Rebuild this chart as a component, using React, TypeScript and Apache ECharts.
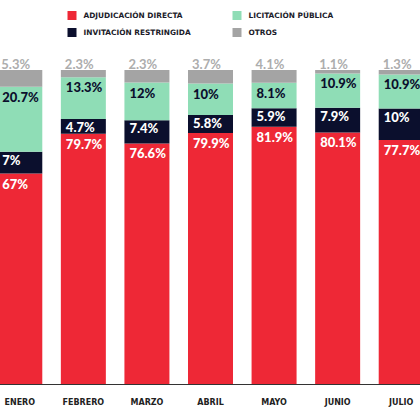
import React, { useEffect, useRef } from "react";
import * as echarts from "echarts";

const months = ["ENERO", "FEBRERO", "MARZO", "ABRIL", "MAYO", "JUNIO", "JULIO"];
const adjudicacion = [67, 79.7, 76.6, 79.9, 81.9, 80.1, 77.7];
const invitacion = [7, 4.7, 7.4, 5.8, 5.9, 7.9, 10];
const licitacion = [20.7, 13.3, 12, 10, 8.1, 10.9, 10.9];
const otros = [5.3, 2.3, 2.3, 3.7, 4.1, 1.1, 1.3];

const names = ["ADJUDICACIÓN DIRECTA", "INVITACIÓN RESTRINGIDA", "LICITACIÓN PÚBLICA", "OTROS"];
const colors = ["#EE2836", "#0B0F2D", "#8FDDB6", "#A4A4A4"];

// gray segment fills the bar to 100% as in the original; label shows reported value
const otrosFill = months.map((_, i) =>
  Math.max(0, +(100 - adjudicacion[i] - invitacion[i] - licitacion[i]).toFixed(1))
);

const SHIFT = 12.5;
const W = 444.5;

export default function App() {
  const ref = useRef<HTMLDivElement>(null);
  useEffect(() => {
    if (!ref.current) return;
    const chart = echarts.init(ref.current, null, { renderer: "svg" });
    const mkLabel = (arr: number[], color: string, pos: number[], weight: any = 900) => ({
      show: true,
      position: pos,
      verticalAlign: "middle",
      align: "left",
      color,
      fontFamily: "Lato",
      fontWeight: weight,
      fontSize: 13,
      formatter: (p: any) => `${arr[p.dataIndex]}%`,
    });
    const legendText = {
      fontFamily: "DejaVu Sans",
      fontWeight: "bold" as const,
      fontSize: 7.4,
      color: "#1c1c2a",
      padding: [0, 0, 0, 2],
    };
    chart.setOption({
      animation: false,
      legend: [
        {
          data: [names[0], names[1]],
          orient: "vertical",
          left: 67 + SHIFT,
          top: 11,
          padding: 0,
          itemWidth: 9,
          itemHeight: 9,
          itemGap: 8,
          icon: "rect",
          textStyle: legendText,
        },
        {
          data: [names[2], names[3]],
          orient: "vertical",
          left: 232 + SHIFT,
          top: 11,
          padding: 0,
          itemWidth: 9,
          itemHeight: 9,
          itemGap: 8,
          icon: "rect",
          textStyle: legendText,
        },
      ],
      grid: { left: 0, right: 0, top: 70, bottom: 36, containLabel: false },
      xAxis: {
        type: "category",
        data: months,
        axisLine: { lineStyle: { color: "#333", width: 1 } },
        axisTick: { inside: true, length: 6, lineStyle: { color: "#333" } },
        axisLabel: {
          margin: 14,
          color: "#222",
          fontFamily: "DejaVu Sans",
          fontWeight: "bold",
          fontSize: 8,
        },
      },
      yAxis: { type: "value", min: 0, max: 100, show: false, splitLine: { show: false } },
      series: [
        {
          name: names[0],
          type: "bar",
          stack: "t",
          barWidth: 45,
          data: adjudicacion,
          itemStyle: { color: colors[0] },
          label: mkLabel(adjudicacion, "#ffffff", [5, 10]),
        },
        {
          name: names[1],
          type: "bar",
          stack: "t",
          data: invitacion,
          itemStyle: { color: colors[1] },
          label: mkLabel(invitacion, "#ffffff", [5, 8]),
        },
        {
          name: names[2],
          type: "bar",
          stack: "t",
          data: licitacion,
          itemStyle: { color: colors[2] },
          label: mkLabel(licitacion, "#0B0F2D", [5, 10]),
        },
        {
          name: names[3],
          type: "bar",
          stack: "t",
          data: otrosFill,
          itemStyle: { color: colors[3] },
          label: mkLabel(otros, "#ADADAD", [4, -6], "bold"),
        },
      ],
    });
    return () => chart.dispose();
  }, []);
  return (
    <div style={{ position: "fixed", left: 0, top: 0, width: 420, height: 420, overflow: "hidden", background: "#fff" }}>
      <div ref={ref} style={{ position: "absolute", left: -SHIFT, top: 0, width: W, height: 420 }} />
    </div>
  );
}
